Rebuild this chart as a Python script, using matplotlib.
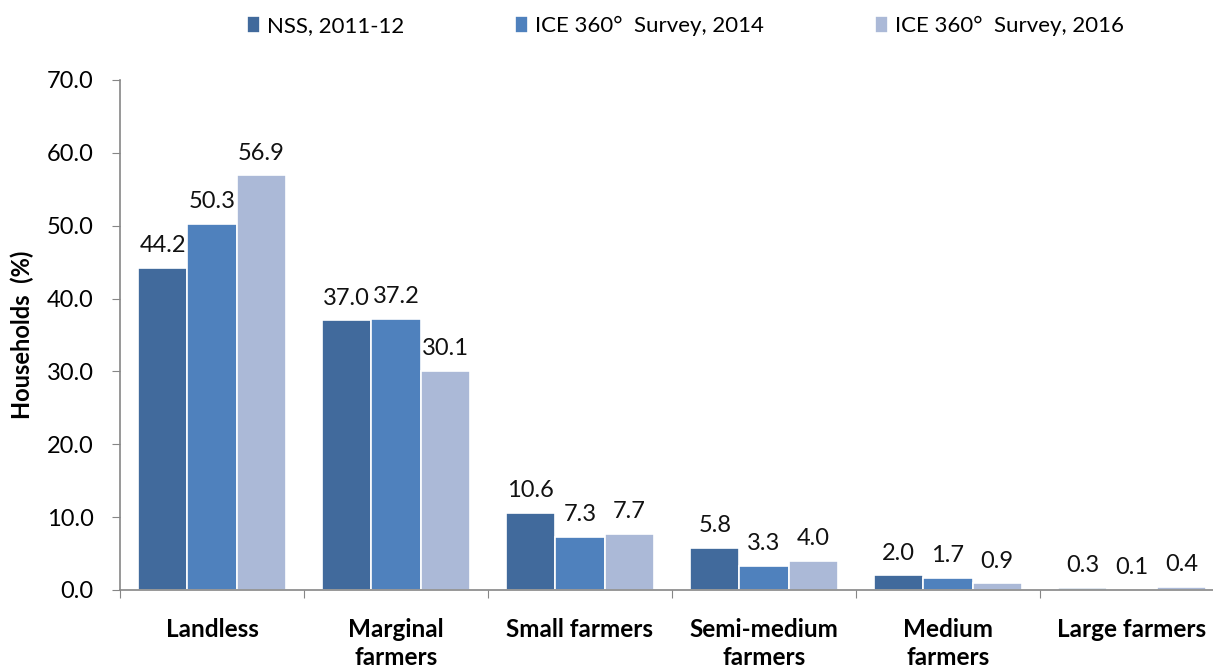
import matplotlib
matplotlib.use("Agg")
import matplotlib.pyplot as plt
import numpy as np

categories = ["Landless", "Marginal\nfarmers", "Small farmers", "Semi-medium\nfarmers", "Medium\nfarmers", "Large farmers"]
series_names = ["NSS, 2011-12", "ICE 360°  Survey, 2014", "ICE 360°  Survey, 2016"]
nss_2011 = [44.2, 37.0, 10.6, 5.8, 2.0, 0.3]
ice_2014 = [50.3, 37.2, 7.3, 3.3, 1.7, 0.1]
ice_2016 = [56.9, 30.1, 7.7, 4.0, 0.9, 0.4]
colors = ["#416A9C", "#4F81BD", "#ABB9D7"]
yticks = [0, 10, 20, 30, 40, 50, 60, 70]

plt.rcParams['font.family'] = ['Lato', 'DejaVu Sans']

W, H = 1213, 666
fig = plt.figure(figsize=(W/100, H/100), dpi=100)
ax = fig.add_axes([120/W, 1-590/H, (1224-120)/W, (590-80)/H])

x = np.arange(len(categories))
bw = 0.268
series = [nss_2011, ice_2014, ice_2016]
for i, (vals, c, name) in enumerate(zip(series, colors, series_names)):
    pos = x + (i-1)*bw
    ax.bar(pos, vals, width=bw, color=c, edgecolor='white', linewidth=1.2, label=name)
    for p, v in zip(pos, vals):
        ax.text(p, v + 1.6, f"{v:.1f}", ha='center', va='bottom', fontsize=17, color='#111111')

ax.set_xlim(-0.5, len(categories)-0.5)
ax.set_ylim(0, 70)
ax.set_yticks(yticks)
ax.set_yticklabels([f"{t:.1f}" for t in yticks], fontsize=17)
ax.set_xticks(np.arange(len(categories)+1)-0.5, minor=False)
ax.set_xticklabels([])
ax.set_xticks(x, minor=True)
ax.set_xticklabels(categories, minor=True, fontsize=17.5, fontweight='bold', va='top', linespacing=1.25)
ax.tick_params(axis='x', which='minor', length=0, pad=20)
ax.tick_params(axis='x', which='major', length=6, color='#868686', direction='out')
ax.tick_params(axis='y', length=6, color='#868686', direction='out', pad=13)
for s in ['top', 'right']:
    ax.spines[s].set_visible(False)
for s in ['left', 'bottom']:
    ax.spines[s].set_color('#868686')
    ax.spines[s].set_linewidth(1.2)
ax.set_ylabel("Households  (%)", fontsize=17, fontweight='bold')
ax.yaxis.set_label_coords((34-120)/(1224-120), 0.5)

handles, labels = ax.get_legend_handles_labels()
fig.legend(handles, labels, loc='center', bbox_to_anchor=(0.565, 1-26/H), ncol=3, frameon=False,
           fontsize=16, handlelength=0.6, handleheight=0.8, handletextpad=0.3, columnspacing=5.0)

fig.savefig("out.png", dpi=100)
